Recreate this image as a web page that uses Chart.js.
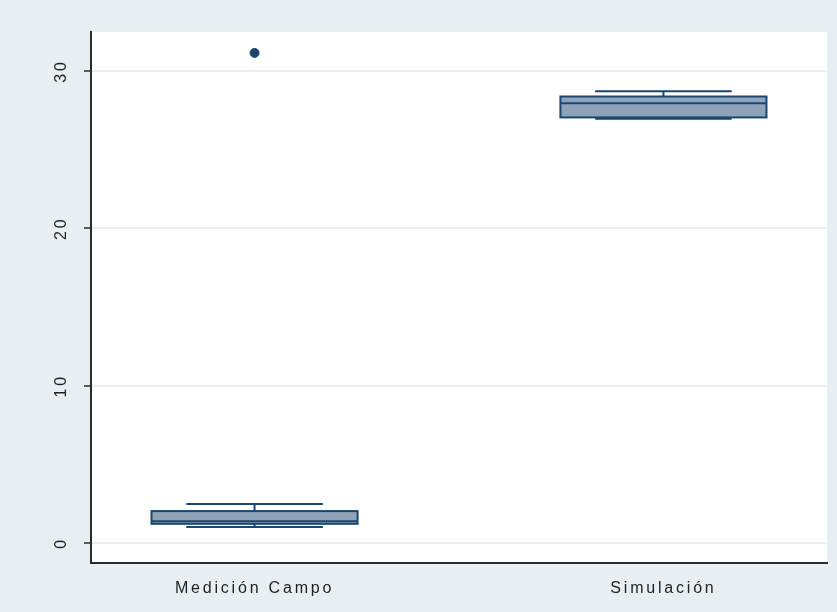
<!DOCTYPE html>
<html>
<head>
<meta charset="utf-8">
<script src="https://cdn.jsdelivr.net/npm/chart.js@4.4.1/dist/chart.umd.min.js"></script>
<style>
  html, body { margin: 0; padding: 0; background: #e7eff2; }
  #wrap { width: 837px; height: 612px; }
</style>
</head>
<body>
<div id="wrap"><canvas id="boxChart" width="837" height="612"></canvas></div>
<script>
// Box plot of field measurement vs simulation, Stata-style look.
const categories = ["Medición Campo", "Simulación"];
const whiskerLow = [1.02, 26.97];
const q1 = [1.22, 27.05];
const median = [1.38, 27.95];
const q3 = [2.03, 28.38];
const whiskerHigh = [2.48, 28.72];
const outliers = [[31.15], []];
const yTicks = [0, 10, 20, 30];

const NAVY = "#1a476f";
const BOX_FILL = "#8fa3b8";
const GRID = "#e8f0f2";
const AXIS = "#2b2b2b";
const PAGE_BG = "#e7eff2";

const catPos = categories.map((_, i) => i + 1);

// Boxes and whiskers, placed with the chart's own scales.
const boxPlugin = {
  id: "boxes",
  beforeDraw(chart) {
    const { ctx, chartArea: a } = chart;
    ctx.save();
    ctx.fillStyle = PAGE_BG;
    ctx.fillRect(0, 0, chart.width, chart.height);
    ctx.fillStyle = "#ffffff";
    ctx.fillRect(a.left, a.top, a.right - a.left, a.bottom - a.top);
    ctx.restore();
    ctx.letterSpacing = "2.8px";
  },
  afterDatasetsDraw(chart) {
    const { ctx, scales: { x, y } } = chart;
    ctx.save();
    ctx.strokeStyle = NAVY;
    ctx.lineWidth = 2;
    catPos.forEach((pos, i) => {
      const xl = x.getPixelForValue(pos - 0.252);
      const xr = x.getPixelForValue(pos + 0.252);
      const cl = x.getPixelForValue(pos - 0.167);
      const cr = x.getPixelForValue(pos + 0.167);
      const xc = x.getPixelForValue(pos);
      const yLo = y.getPixelForValue(whiskerLow[i]);
      const yQ1 = y.getPixelForValue(q1[i]);
      const yMed = y.getPixelForValue(median[i]);
      const yQ3 = y.getPixelForValue(q3[i]);
      const yHi = y.getPixelForValue(whiskerHigh[i]);

      ctx.beginPath();
      ctx.moveTo(xc, yQ3); ctx.lineTo(xc, yHi);
      ctx.moveTo(cl, yHi); ctx.lineTo(cr, yHi);
      ctx.moveTo(xc, yQ1); ctx.lineTo(xc, yLo);
      ctx.moveTo(cl, yLo); ctx.lineTo(cr, yLo);
      ctx.stroke();

      ctx.fillStyle = BOX_FILL;
      ctx.fillRect(xl, yQ3, xr - xl, yQ1 - yQ3);
      ctx.strokeRect(xl, yQ3, xr - xl, yQ1 - yQ3);

      ctx.beginPath();
      ctx.moveTo(xl, yMed); ctx.lineTo(xr, yMed);
      ctx.stroke();
    });
    ctx.restore();
  }
};

const outlierPoints = [];
outliers.forEach((vals, i) => vals.forEach((v) => outlierPoints.push({ x: catPos[i], y: v })));

new Chart(document.getElementById("boxChart"), {
  type: "scatter",
  data: {
    datasets: [
      {
        data: outlierPoints,
        backgroundColor: NAVY,
        borderColor: NAVY,
        pointRadius: 4.5,
        pointHoverRadius: 4.5
      }
    ]
  },
  options: {
    responsive: false,
    animation: false,
    layout: { padding: { top: 32, right: 10, left: 0, bottom: 0 } },
    plugins: { legend: { display: false }, tooltip: { enabled: false } },
    scales: {
      x: {
        type: "linear",
        min: 0.6,
        max: 2.4,
        afterBuildTicks: (scale) => { scale.ticks = catPos.map((v) => ({ value: v })); },
        afterFit: (scale) => { scale.height = 49; },
        grid: { display: false, drawTicks: false },
        border: { display: true, color: AXIS, width: 2 },
        ticks: {
          padding: 16,
          color: "#1e1e28",
          font: { family: "'Liberation Sans', Arial, sans-serif", size: 16 },
          callback: (value) => categories[catPos.indexOf(value)] || ""
        }
      },
      y: {
        min: -1.27,
        max: 32.48,
        afterBuildTicks: (scale) => { scale.ticks = yTicks.map((v) => ({ value: v })); },
        afterFit: (scale) => { scale.width = 91; },
        grid: { color: GRID, lineWidth: 2, tickColor: AXIS, tickWidth: 1.5, tickLength: 7 },
        border: { display: true, color: AXIS, width: 2 },
        ticks: {
          minRotation: 90,
          maxRotation: 90,
          crossAlign: "center",
          padding: 14,
          color: "#1e1e28",
          font: { family: "'Liberation Sans', Arial, sans-serif", size: 16 }
        }
      }
    }
  },
  plugins: [boxPlugin]
});
</script>
</body>
</html>
